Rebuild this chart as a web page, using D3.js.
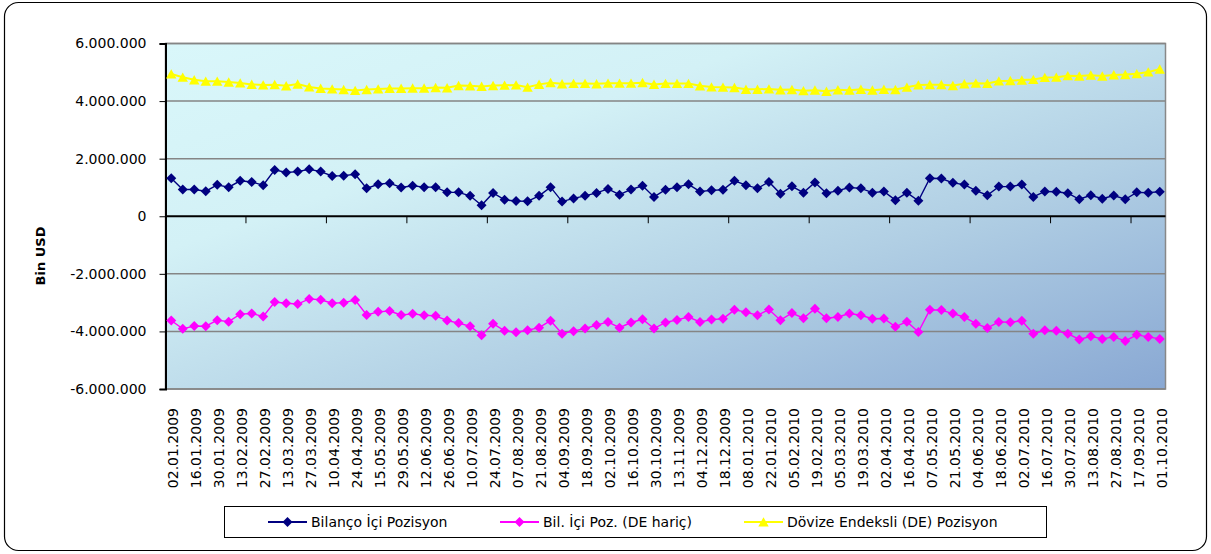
<!DOCTYPE html>
<html>
<head>
<meta charset="utf-8">
<script src="https://cdn.jsdelivr.net/npm/d3@7/dist/d3.min.js"></script>
<style>
  html, body { margin: 0; padding: 0; background: #fff; }
  svg { display: block; }
  text { font-family: "DejaVu Sans", sans-serif; fill: #000; }
</style>
</head>
<body>
<svg id="chart" width="1211" height="554"></svg>
<script>
// ---------------- DATA ----------------
const categories = [
  "02.01.2009","09.01.2009","16.01.2009","23.01.2009","30.01.2009","06.02.2009","13.02.2009","20.02.2009",
  "27.02.2009","06.03.2009","13.03.2009","20.03.2009","27.03.2009","03.04.2009","10.04.2009","17.04.2009",
  "24.04.2009","08.05.2009","15.05.2009","22.05.2009","29.05.2009","05.06.2009","12.06.2009","19.06.2009",
  "26.06.2009","03.07.2009","10.07.2009","17.07.2009","24.07.2009","31.07.2009","07.08.2009","14.08.2009",
  "21.08.2009","28.08.2009","04.09.2009","11.09.2009","18.09.2009","25.09.2009","02.10.2009","09.10.2009",
  "16.10.2009","23.10.2009","30.10.2009","06.11.2009","13.11.2009","20.11.2009","04.12.2009","11.12.2009",
  "18.12.2009","25.12.2009","08.01.2010","15.01.2010","22.01.2010","29.01.2010","05.02.2010","12.02.2010",
  "19.02.2010","26.02.2010","05.03.2010","12.03.2010","19.03.2010","26.03.2010","02.04.2010","09.04.2010",
  "16.04.2010","30.04.2010","07.05.2010","14.05.2010","21.05.2010","28.05.2010","04.06.2010","11.06.2010",
  "18.06.2010","25.06.2010","02.07.2010","09.07.2010","16.07.2010","23.07.2010","30.07.2010","06.08.2010",
  "13.08.2010","20.08.2010","27.08.2010","03.09.2010","17.09.2010","24.09.2010","01.10.2010"
];

// Bilanço İçi Pozisyon (Bin USD)
const bilancoIci = [
  1320000, 930000, 930000, 870000,1090000,1010000,1230000,1190000,1080000,1610000,1520000,1550000,1630000,1550000,1400000,1410000,
  1460000, 970000,1110000,1150000,1000000,1060000,1010000,1010000, 830000, 830000, 710000, 380000, 810000, 570000, 530000, 520000,
   710000,1010000, 510000, 620000, 710000, 810000, 950000, 750000, 930000,1060000, 670000, 920000,1010000,1110000, 860000, 900000,
   920000,1230000,1080000, 970000,1190000, 780000,1040000, 820000,1170000, 800000, 890000,1000000, 970000, 820000, 860000, 560000,
   820000, 540000,1320000,1310000,1160000,1100000, 890000, 730000,1030000,1030000,1100000, 670000, 860000, 850000, 800000, 590000,
   730000, 610000, 720000, 590000, 830000, 820000, 850000
];

// Bil. İçi Poz. (DE hariç)
const bilIciDeHaric = [
  -3620000,-3910000,-3810000,-3820000,-3610000,-3660000,-3400000,-3380000,-3480000,-2980000,-3020000,-3050000,-2870000,-2900000,-3020000,-3000000,
  -2910000,-3430000,-3320000,-3290000,-3430000,-3390000,-3440000,-3460000,-3620000,-3710000,-3820000,-4130000,-3730000,-3980000,-4030000,-3960000,
  -3870000,-3630000,-4080000,-3990000,-3900000,-3780000,-3670000,-3870000,-3690000,-3580000,-3900000,-3690000,-3600000,-3500000,-3670000,-3590000,
  -3560000,-3250000,-3330000,-3440000,-3240000,-3610000,-3360000,-3540000,-3210000,-3540000,-3500000,-3380000,-3440000,-3560000,-3550000,-3840000,
  -3660000,-4020000,-3250000,-3260000,-3380000,-3500000,-3730000,-3880000,-3670000,-3680000,-3630000,-4080000,-3960000,-3980000,-4080000,-4280000,
  -4170000,-4260000,-4190000,-4330000,-4120000,-4190000,-4260000
];

// Dövize Endeksli (DE) Pozisyon
const dovizeEndeksli = [
  4940000,4830000,4740000,4690000,4690000,4660000,4630000,4580000,4560000,4570000,4530000,4590000,4490000,4440000,4420000,4400000,
  4370000,4400000,4420000,4440000,4440000,4450000,4450000,4470000,4460000,4540000,4530000,4510000,4540000,4550000,4560000,4480000,
  4580000,4640000,4600000,4610000,4610000,4600000,4620000,4620000,4620000,4640000,4580000,4610000,4610000,4610000,4530000,4490000,
  4480000,4470000,4410000,4410000,4420000,4390000,4400000,4360000,4380000,4340000,4390000,4380000,4410000,4380000,4410000,4400000,
  4480000,4560000,4570000,4570000,4540000,4600000,4620000,4610000,4700000,4710000,4730000,4750000,4820000,4830000,4880000,4870000,
  4900000,4870000,4910000,4920000,4950000,5010000,5110000
];

const seriesNames = ["Bilanço İçi Pozisyon", "Bil. İçi Poz. (DE hariç)", "Dövize Endeksli (DE) Pozisyon"];
const yTickValues = [-6000000, -4000000, -2000000, 0, 2000000, 4000000, 6000000];
const yAxisTitle = "Bin USD";

// ---------------- CHART ----------------
const svg = d3.select("#chart");
const W = 1211, H = 554;
const plot = { left: 165.5, right: 1165.5, top: 43.5, bottom: 389 };

const locale = d3.formatLocale({ decimal: ",", thousands: ".", grouping: [3], currency: ["", ""], minus: "-" });
const fmt = locale.format(",.0f");

const x = d3.scaleBand().domain(categories).range([plot.left, plot.right]).padding(0);
const y = d3.scaleLinear().domain([-6000000, 6000000]).range([plot.bottom, plot.top]);
const cx = c => x(c) + x.bandwidth() / 2;

// outer rounded frame
svg.append("rect").attr("x", 4.5).attr("y", 2.5).attr("width", 1202).attr("height", 548)
  .attr("rx", 14).attr("ry", 14).attr("fill", "#fff").attr("stroke", "#000").attr("stroke-width", 1.2);

// plot background gradient
const defs = svg.append("defs");
const grad = defs.append("linearGradient").attr("id", "bg").attr("x1", 0).attr("y1", 0).attr("x2", 1).attr("y2", 1);
grad.append("stop").attr("offset", 0).attr("stop-color", "#d9f7fa");
grad.append("stop").attr("offset", 0.3).attr("stop-color", "#d3f1f6");
grad.append("stop").attr("offset", 0.65).attr("stop-color", "#b1cfe4");
grad.append("stop").attr("offset", 1).attr("stop-color", "#89a8d3");

svg.append("rect").attr("x", plot.left).attr("y", plot.top)
  .attr("width", plot.right - plot.left).attr("height", plot.bottom - plot.top)
  .attr("fill", "url(#bg)").attr("stroke", "#888").attr("stroke-width", 1.5);

// gridlines
svg.append("g").selectAll("line").data(yTickValues.filter(v => v !== 0)).join("line")
  .attr("x1", plot.left).attr("x2", plot.right)
  .attr("y1", d => y(d)).attr("y2", d => y(d))
  .attr("stroke", "#858585").attr("stroke-width", 1.5);

// y axis
const yAxis = svg.append("g").attr("transform", `translate(${plot.left},0)`)
  .call(d3.axisLeft(y).tickValues(yTickValues).tickSize(6).tickPadding(13).tickFormat(fmt));
yAxis.select(".domain").attr("stroke", "#000").attr("stroke-width", 2);
yAxis.selectAll(".tick line").attr("stroke", "#000").attr("stroke-width", 1);
yAxis.selectAll(".tick text").attr("font-family", "DejaVu Sans").attr("font-size", 14).attr("fill", "#000");

// zero axis line with tick marks every 7 categories
svg.append("line").attr("x1", plot.left).attr("x2", plot.right)
  .attr("y1", y(0)).attr("y2", y(0)).attr("stroke", "#000").attr("stroke-width", 2);
const tickCats = categories.filter((c, i) => i > 0 && i % 7 === 0);
svg.append("g").selectAll("line").data(tickCats).join("line")
  .attr("x1", d => x(d)).attr("x2", d => x(d))
  .attr("y1", y(0)).attr("y2", y(0) + 7)
  .attr("stroke", "#000").attr("stroke-width", 1);

// x category labels (every second)
const labelCats = categories.filter((c, i) => i % 2 === 0);
svg.append("g").selectAll("text").data(labelCats).join("text")
  .attr("transform", d => `translate(${cx(d) + 7},${plot.bottom + 19}) rotate(-90)`)
  .attr("text-anchor", "end")
  .attr("font-size", 14)
  .text(d => d);

// y axis title
svg.append("text")
  .attr("transform", `translate(45,256) rotate(-90)`)
  .attr("text-anchor", "middle")
  .attr("font-size", 13).attr("font-weight", "bold")
  .text(yAxisTitle);

// series
const diamond = "M0,-5L5,0L0,5L-5,0Z";
const triangle = "M0,-4.8L5.2,4.6L-5.2,4.6Z";
const series = [
  { name: seriesNames[0], values: bilancoIci, color: "#000080", width: 1.4, marker: diamond },
  { name: seriesNames[1], values: bilIciDeHaric, color: "#ff00ff", width: 1.4, marker: diamond },
  { name: seriesNames[2], values: dovizeEndeksli, color: "#ffff00", width: 2, marker: triangle }
];

const line = d3.line().x((d, i) => cx(categories[i])).y(d => y(d));
series.forEach(s => {
  svg.append("path").datum(s.values).attr("d", line)
    .attr("fill", "none").attr("stroke", s.color).attr("stroke-width", s.width);
  svg.append("g").selectAll("path").data(s.values).join("path")
    .attr("d", s.marker)
    .attr("transform", (d, i) => `translate(${cx(categories[i])},${y(d)})`)
    .attr("fill", s.color);
});

// legend
const lg = svg.append("g");
lg.append("rect").attr("x", 224.5).attr("y", 506.5).attr("width", 822).attr("height", 31)
  .attr("fill", "#fff").attr("stroke", "#000").attr("stroke-width", 1);
const legendX = [268, 500, 744];
series.forEach((s, i) => {
  const g = lg.append("g").attr("transform", `translate(${legendX[i]},522)`);
  g.append("line").attr("x1", 0).attr("x2", 39).attr("y1", 0).attr("y2", 0)
    .attr("stroke", s.color).attr("stroke-width", 2);
  g.append("path").attr("d", s.marker).attr("transform", "translate(19.5,0)").attr("fill", s.color);
  g.append("text").attr("x", 43).attr("y", 5).attr("font-size", 14).text(s.name);
});
</script>
</body>
</html>
